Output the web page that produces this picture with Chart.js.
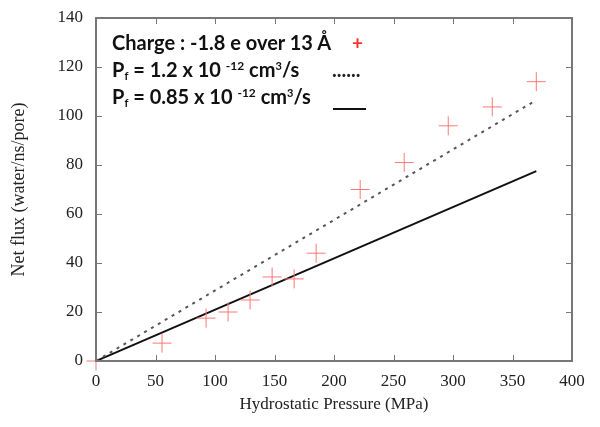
<!DOCTYPE html>
<html>
<head>
<meta charset="utf-8">
<script src="https://cdn.jsdelivr.net/npm/chart.js@4"></script>
<style>
  html, body { margin: 0; padding: 0; background: #fff; }
  #wrap { position: relative; width: 600px; height: 427px; }
  #legend {
    position: absolute; left: 112px; top: 29px;
    font-family: Lato, "Open Sans", sans-serif; font-weight: bold;
    font-size: 20px; color: #111; line-height: 27px;
  }
  #legend .row { position: relative; white-space: nowrap; height: 27px; }
  #legend sub { font-size: 11px; vertical-align: -3px; line-height: 0; }
  #legend sup { font-size: 12px; vertical-align: 7px; line-height: 0; }
  #legend sup.cube { font-size: 11px; }
  #legend .sym { position: absolute; top: 0; }
  .plus { color: #f33; font-size: 19px; left: 240px; }
  .dots { color: #222; left: 220px; }
  .solid { left: 221px; top: 25px !important; width: 33px; height: 0; border-top: 2px solid #111; }
</style>
</head>
<body>
<div id="wrap">
  <canvas id="fluxChart" width="600" height="427"></canvas>
  <div id="legend">
    <div class="row">Charge : -1.8 e over 13 Å<span class="sym plus">+</span></div>
    <div class="row">P<sub>f</sub> = 1.2 x 10 <sup>-12</sup> cm<sup class="cube">3</sup>/s<span class="sym dots">......</span></div>
    <div class="row">P<sub>f</sub> = 0.85 x 10 <sup>-12</sup> cm<sup class="cube">3</sup>/s<span class="sym solid"></span></div>
  </div>
</div>
<script>
const pressure = [0, 55.5, 92.5, 111, 129.5, 148, 166.5, 185, 222, 259, 296, 333, 370];
const netFlux = [0, 7.3, 17.5, 20, 24.9, 34.3, 33.5, 44, 70, 81, 96, 103.7, 114];

const fitPressure = [0, 370];
const fitHigh = [0, 106.5];
const fitLow = [0, 77.5];

const xTicks = [0, 50, 100, 150, 200, 250, 300, 350, 400];
const yTicks = [0, 20, 40, 60, 80, 100, 120, 140];

const toPoints = (xs, ys) => xs.map((x, i) => ({ x: x, y: ys[i] }));

const frameColor = "#777";
const serif = "'Liberation Serif', serif";

// gnuplot style frame with inward ticks on all four sides
const frameTicks = {
  id: "frameTicks",
  afterDatasetsDraw(chart) {
    const { ctx, chartArea: a, scales } = chart;
    const len = 6;
    ctx.save();
    ctx.strokeStyle = frameColor;
    ctx.lineWidth = 1;
    ctx.beginPath();
    xTicks.forEach((v) => {
      const px = Math.round(scales.x.getPixelForValue(v)) + 0.5;
      ctx.moveTo(px, a.bottom);
      ctx.lineTo(px, a.bottom - len);
      ctx.moveTo(px, a.top);
      ctx.lineTo(px, a.top + len);
    });
    yTicks.forEach((v) => {
      const py = Math.round(scales.y.getPixelForValue(v)) + 0.5;
      ctx.moveTo(a.left, py);
      ctx.lineTo(a.left + len, py);
      ctx.moveTo(a.right, py);
      ctx.lineTo(a.right - len, py);
    });
    ctx.stroke();
    ctx.lineWidth = 2;
    ctx.strokeRect(a.left, a.top, a.right - a.left, a.bottom - a.top);
    ctx.restore();
  },
};

const ctx = document.getElementById("fluxChart").getContext("2d");
new Chart(ctx, {
  type: "scatter",
  data: {
    datasets: [
      {
        label: "Charge",
        data: toPoints(pressure, netFlux),
        pointStyle: "cross",
        pointRadius: 9.5,
        borderColor: "#f77",
        borderWidth: 1,
        showLine: false,
        clip: false,
      },
      {
        label: "Pf 1.2",
        data: toPoints(fitPressure, fitHigh),
        showLine: true,
        pointRadius: 0,
        borderColor: "#555",
        borderWidth: 2,
        borderDash: [3, 5],
      },
      {
        label: "Pf 0.85",
        data: toPoints(fitPressure, fitLow),
        showLine: true,
        pointRadius: 0,
        borderColor: "#111",
        borderWidth: 2,
      },
    ],
  },
  options: {
    responsive: false,
    animation: false,
    layout: { padding: { top: 18, right: 28, left: 0, bottom: 0 } },
    plugins: { legend: { display: false }, tooltip: { enabled: false } },
    scales: {
      x: {
        type: "linear",
        min: 0,
        max: 400,
        afterBuildTicks: (s) => { s.ticks = xTicks.map((v) => ({ value: v })); },
        afterFit: (s) => { s.height = 66; },
        grid: { display: false },
        border: { display: false },
        ticks: { color: "#222", padding: 2, font: { family: serif, size: 17 } },
        title: {
          display: true,
          text: "Hydrostatic Pressure (MPa)",
          color: "#222",
          padding: { top: 0, bottom: 12 },
          font: { family: serif, size: 17 },
        },
      },
      y: {
        type: "linear",
        min: 0,
        max: 140,
        afterBuildTicks: (s) => { s.ticks = yTicks.map((v) => ({ value: v })); },
        afterFit: (s) => { s.width = 96; },
        grid: { display: false },
        border: { display: false },
        ticks: { color: "#222", padding: 5, font: { family: serif, size: 17 } },
        title: {
          display: true,
          text: "Net flux (water/ns/pore)",
          color: "#222",
          padding: { top: 8, bottom: 0 },
          font: { family: serif, size: 18 },
        },
      },
    },
  },
  plugins: [frameTicks],
});
</script>
</body>
</html>
